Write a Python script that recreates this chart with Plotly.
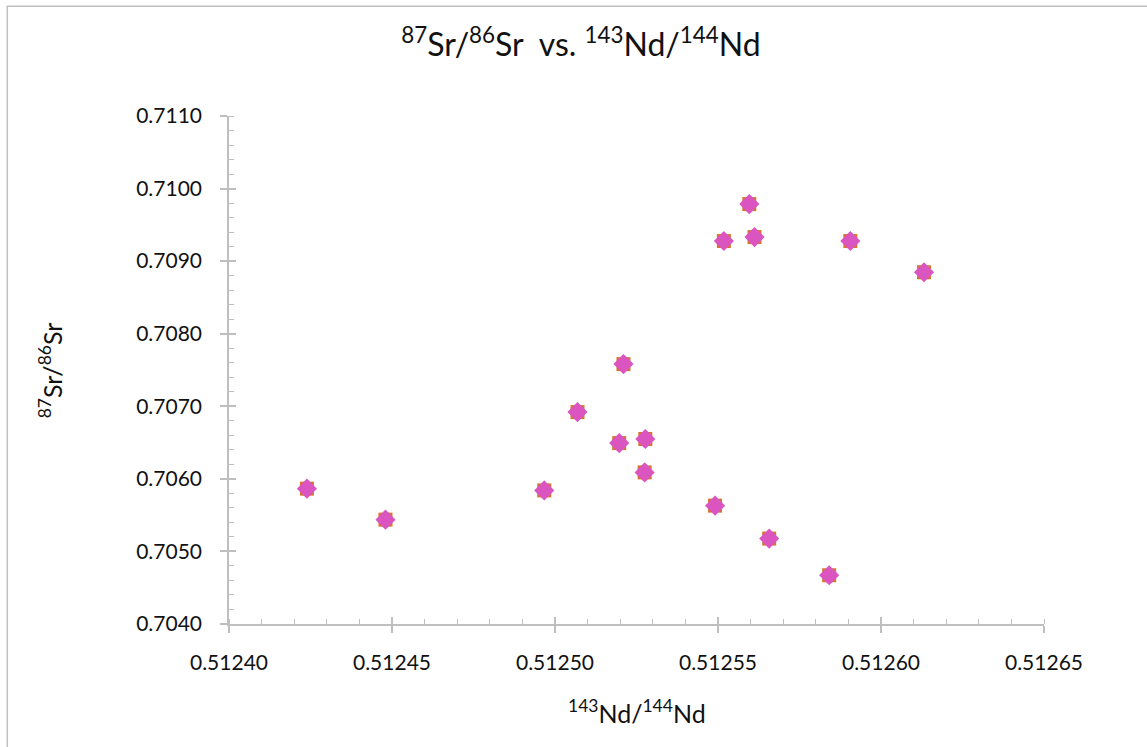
import plotly.graph_objects as go

# 143Nd/144Nd and 87Sr/86Sr isotope ratios per sample
nd_ratio = [0.5124239, 0.5124480, 0.5124967, 0.5125069, 0.5125197, 0.5125210,
            0.5125277, 0.5125275, 0.5125491, 0.5125518, 0.5125596, 0.5125612,
            0.5125657, 0.5125841, 0.5125906, 0.5126132]
sr_ratio = [0.705865, 0.705438, 0.705841, 0.706920, 0.706493, 0.707581,
            0.706549, 0.706089, 0.705631, 0.709277, 0.709786, 0.709332,
            0.705177, 0.704672, 0.709277, 0.708847]

x_range = [0.51240, 0.51265]
y_range = [0.7040, 0.7110]

W, H = 1147, 747
L, R, T, B = 228.7, W - 1043.7, 115.8, H - 624.5
pw, ph = W - L - R, H - T - B

axis_col = "#BFBFBF"
txt_col = "#111111"
font_family = "Lato, 'Open Sans', sans-serif"

fig = go.Figure()
# orange square underneath, pink diamond on top -> star-like marker
fig.add_trace(go.Scatter(x=nd_ratio, y=sr_ratio, mode="markers",
                         marker=dict(symbol="square", size=14, color="#D6752C",
                                     line=dict(width=0)),
                         showlegend=False, hoverinfo="skip"))
fig.add_trace(go.Scatter(x=nd_ratio, y=sr_ratio, mode="markers",
                         marker=dict(symbol="diamond", size=15.5, color="#DA55C0",
                                     line=dict(width=0)),
                         showlegend=False))

common = dict(showgrid=False, zeroline=False, showline=True, linecolor=axis_col,
              linewidth=1.5, ticks="outside", ticklen=7, tickwidth=1.5,
              tickcolor=axis_col, tickfont=dict(family=font_family, size=21, color=txt_col))

fig.update_layout(
    width=W, height=H,
    margin=dict(l=L, r=R, t=T, b=B, autoexpand=False),
    paper_bgcolor="white", plot_bgcolor="white",
    font=dict(family=font_family, color=txt_col),
    title=dict(text="<sup>87</sup>Sr/<sup>86</sup>Sr  vs. <sup>143</sup>Nd/<sup>144</sup>Nd",
               x=581 / W, xref="container", xanchor="center", y=1 - 45 / H, yanchor="middle",
               font=dict(family=font_family, size=32, color=txt_col)),
    xaxis=dict(range=x_range, dtick=0.00005, tickformat=".5f", ticklabelstandoff=12,
               minor=dict(ticks="inside", ticklen=5, dtick=0.00001, tickcolor=axis_col, tickwidth=1.2),
               **common),
    yaxis=dict(range=y_range, dtick=0.001, tickformat=".4f", ticklabelstandoff=14,
               minor=dict(ticks="inside", ticklen=5, dtick=0.0002, tickcolor=axis_col, tickwidth=1.2),
               **common),
    # overlay axes supply the inner half of the major (crossing) ticks
    xaxis2=dict(range=x_range, dtick=0.00005, overlaying="x", matches="x", side="bottom",
                anchor="y", showgrid=False, zeroline=False, showline=False, ticks="inside",
                ticklen=7, tickwidth=1.5, tickcolor=axis_col, showticklabels=False),
    yaxis2=dict(range=y_range, dtick=0.001, overlaying="y", matches="y", side="left",
                anchor="x", showgrid=False, zeroline=False, showline=False, ticks="inside",
                ticklen=7, tickwidth=1.5, tickcolor=axis_col, showticklabels=False),
)

# dummy trace so the overlay axes are rendered
fig.add_trace(go.Scatter(x=[None], y=[None], xaxis="x2", yaxis="y2", showlegend=False))

# axis titles
fig.add_annotation(text="<sup>143</sup>Nd/<sup>144</sup>Nd", xref="paper", yref="paper",
                   x=0.5, y=-(712 - (T + ph)) / ph, xanchor="center", yanchor="middle",
                   showarrow=False, font=dict(family=font_family, size=25, color=txt_col))
fig.add_annotation(text="<sup>87</sup>Sr/<sup>86</sup>Sr", xref="paper", yref="paper",
                   x=-(L - 50) / pw, y=0.5, xanchor="center", yanchor="middle", textangle=-90,
                   showarrow=False, font=dict(family=font_family, size=25, color=txt_col))

# outer chart border
fig.add_shape(type="rect", xref="paper", yref="paper",
              x0=(7 - L) / pw, x1=(W + 5 - L) / pw,
              y0=-(B + 5) / ph, y1=1 + (T - 6) / ph,
              line=dict(color="#BFBFBF", width=1.5), fillcolor="rgba(0,0,0,0)", layer="below")

fig.write_html("out.html")
